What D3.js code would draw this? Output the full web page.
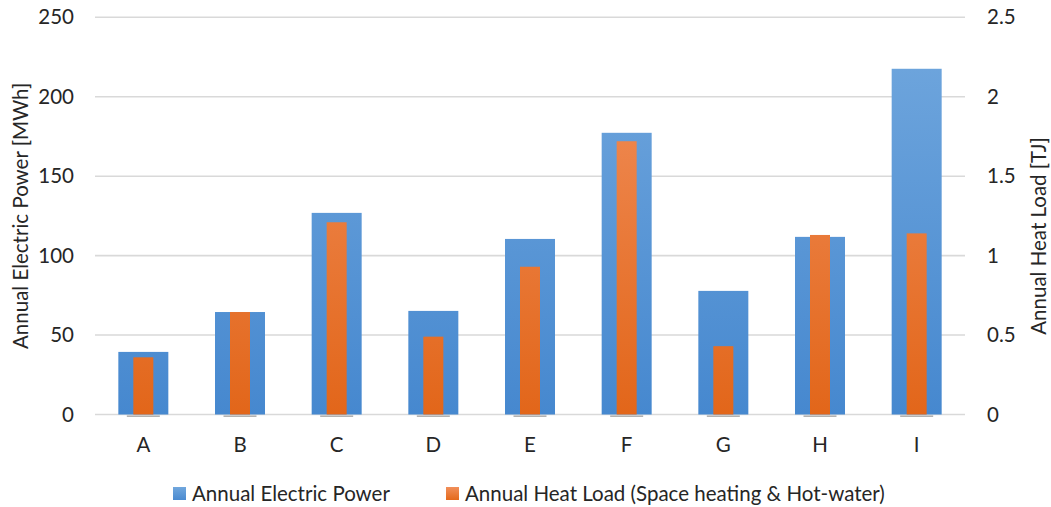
<!DOCTYPE html>
<html>
<head>
<meta charset="utf-8">
<script src="https://cdn.jsdelivr.net/npm/d3@7"></script>
<style>
  html, body { margin: 0; padding: 0; background: #fff; }
  svg { display: block; font-family: Lato, "Open Sans", sans-serif; }
</style>
</head>
<body>
<svg id="chart" width="1051" height="507"></svg>
<script>
// Sites and their annual loads
const categories = ["A", "B", "C", "D", "E", "F", "G", "H", "I"];
const electricPower = [39.4, 64.5, 126.9, 65.2, 110.5, 177.3, 77.8, 111.8, 217.6]; // MWh
const heatLoad = [0.36, 0.645, 1.21, 0.49, 0.93, 1.72, 0.43, 1.13, 1.14];          // TJ
const leftTicks = [0, 50, 100, 150, 200, 250];
const rightTicks = [0, 0.5, 1, 1.5, 2, 2.5];
const seriesNames = ["Annual Electric Power", "Annual Heat Load (Space heating & Hot-water)"];

const FS = 20.5;
const INK = "#262626";

const svg = d3.select("#chart");
const m = { left: 95, right: 965, top: 17.3, bottom: 414.5 };

const x = d3.scaleBand().domain(categories).range([m.left, m.right]).paddingInner(0).paddingOuter(0);
const yL = d3.scaleLinear().domain([0, 250]).range([m.bottom, m.top]);
const yR = d3.scaleLinear().domain([0, 2.5]).range([m.bottom, m.top]);

// Gradients for the two series
const defs = svg.append("defs");
function grad(id, top, bottom) {
  const g = defs.append("linearGradient").attr("id", id)
    .attr("x1", 0).attr("y1", 0).attr("x2", 0).attr("y2", 1);
  g.append("stop").attr("offset", "0%").attr("stop-color", top);
  g.append("stop").attr("offset", "100%").attr("stop-color", bottom);
}
grad("gBlue", "#71a7dd", "#4a8ad0");
grad("gOrange", "#f18f5a", "#e4691b");
// Gradients in user space so every bar shares one ramp over the plot height
function gradUser(id, top, bottom) {
  const g = defs.append("linearGradient").attr("id", id)
    .attr("gradientUnits", "userSpaceOnUse")
    .attr("x1", 0).attr("y1", m.top).attr("x2", 0).attr("y2", m.bottom);
  g.append("stop").attr("offset", "0%").attr("stop-color", top);
  g.append("stop").attr("offset", "100%").attr("stop-color", bottom);
}
gradUser("uBlue", "#72a8de", "#4688cf");
gradUser("uOrange", "#f29260", "#e2661a");

// Gridlines
svg.append("g").selectAll("line").data(leftTicks).join("line")
  .attr("x1", m.left).attr("x2", m.right)
  .attr("y1", d => yL(d)).attr("y2", d => yL(d))
  .attr("stroke", "#d9d9d9").attr("stroke-width", 1.6);

function styleText(g) {
  g.select(".domain").remove();
  g.selectAll("text").attr("font-size", FS).attr("fill", INK).attr("font-family", "Lato, sans-serif");
}

// Left axis labels
const leftAxis = d3.axisLeft(yL).tickValues(leftTicks).tickSize(0).tickPadding(0).tickFormat(d3.format("d"));
svg.append("g").attr("transform", `translate(74,0)`).call(leftAxis).call(styleText);

// Right axis labels
const rightAxis = d3.axisRight(yR).tickValues(rightTicks).tickSize(0).tickPadding(0).tickFormat(d => String(d));
svg.append("g").attr("transform", `translate(987,0)`).call(rightAxis).call(styleText);

// Category axis
const bottomAxis = d3.axisBottom(x).tickSize(0).tickPadding(0);
svg.append("g").attr("transform", `translate(0,437)`).call(bottomAxis).call(styleText);

// Small baseline markers under each category
svg.append("g").selectAll("rect").data(categories).join("rect")
  .attr("x", d => x(d) + x.bandwidth() / 2 - 16.5)
  .attr("y", m.bottom + 1)
  .attr("width", 33).attr("height", 1.3)
  .attr("fill", "#a0a0a0");

// Electric power bars (wide, left axis)
svg.append("g").selectAll("rect").data(categories).join("rect")
  .attr("x", d => x(d) + x.bandwidth() / 2 - 25)
  .attr("width", 50)
  .attr("y", (d, i) => yL(electricPower[i]))
  .attr("height", (d, i) => yL(0) - yL(electricPower[i]))
  .attr("fill", "url(#uBlue)");

// Heat load bars (narrow, right axis)
svg.append("g").selectAll("rect").data(categories).join("rect")
  .attr("x", d => x(d) + x.bandwidth() / 2 - 10)
  .attr("width", 20)
  .attr("y", (d, i) => yR(heatLoad[i]))
  .attr("height", (d, i) => yR(0) - yR(heatLoad[i]))
  .attr("fill", "url(#uOrange)");

// Axis titles
svg.append("text")
  .attr("transform", `translate(28,${(m.top + m.bottom) / 2}) rotate(-90)`)
  .attr("text-anchor", "middle").attr("font-size", FS).attr("fill", INK)
  .text("Annual Electric Power [MWh]");
svg.append("text")
  .attr("transform", `translate(1046,236) rotate(-90)`)
  .attr("text-anchor", "middle").attr("font-size", FS).attr("fill", INK)
  .text("Annual Heat Load [TJ]");

// Legend
const legend = svg.append("g");
const legendItems = [
  { name: seriesNames[0], fill: "url(#gBlue)", x: 173 },
  { name: seriesNames[1], fill: "url(#gOrange)", x: 446 }
];
legendItems.forEach(it => {
  legend.append("rect").attr("x", it.x).attr("y", 487).attr("width", 13).attr("height", 13).attr("fill", it.fill);
  legend.append("text").attr("x", it.x + 19).attr("y", 501).attr("font-size", FS).attr("fill", INK).text(it.name);
});
</script>
</body>
</html>
